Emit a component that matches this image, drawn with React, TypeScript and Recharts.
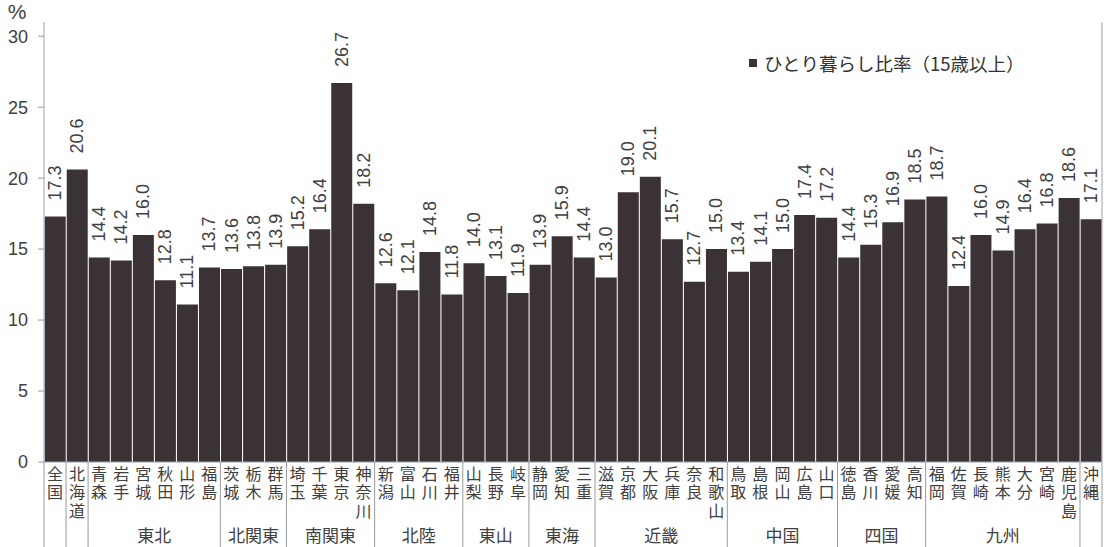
import React from 'react';
import {
  BarChart, Bar, XAxis, YAxis, Legend, LabelList, Label
} from 'recharts';

const categories = [
  '全国', '北海道',
  '青森', '岩手', '宮城', '秋田', '山形', '福島',
  '茨城', '栃木', '群馬',
  '埼玉', '千葉', '東京', '神奈川',
  '新潟', '富山', '石川', '福井',
  '山梨', '長野', '岐阜',
  '静岡', '愛知', '三重',
  '滋賀', '京都', '大阪', '兵庫', '奈良', '和歌山',
  '鳥取', '島根', '岡山', '広島', '山口',
  '徳島', '香川', '愛媛', '高知',
  '福岡', '佐賀', '長崎', '熊本', '大分', '宮崎', '鹿児島',
  '沖縄',
];

// ひとり暮らし比率（15歳以上）, %
const singleRates = [
  17.3, 20.6,
  14.4, 14.2, 16.0, 12.8, 11.1, 13.7,
  13.6, 13.8, 13.9,
  15.2, 16.4, 26.7, 18.2,
  12.6, 12.1, 14.8, 11.8,
  14.0, 13.1, 11.9,
  13.9, 15.9, 14.4,
  13.0, 19.0, 20.1, 15.7, 12.7, 15.0,
  13.4, 14.1, 15.0, 17.4, 17.2,
  14.4, 15.3, 16.9, 18.5,
  18.7, 12.4, 16.0, 14.9, 16.4, 16.8, 18.6,
  17.1,
];

const regionNames = ['', '', '東北', '北関東', '南関東', '北陸', '東山', '東海', '近畿', '中国', '四国', '九州', ''];
const regionSizes = [1, 1, 6, 3, 4, 4, 3, 3, 6, 5, 4, 7, 1];

const yTicks = [0, 5, 10, 15, 20, 25, 30];

const data = categories.map((name, i) => ({ name, rate: singleRates[i] }));

// index of the first prefecture in each region -> region info
const regionStarts: Record<number, { label: string; size: number }> = {};
let cursor = 0;
regionNames.forEach((label, r) => {
  regionStarts[cursor] = { label, size: regionSizes[r] };
  cursor += regionSizes[r];
});

const WIDTH = 1104;
const HEIGHT = 547;
const BAR_COLOR = '#3b3236';
const TEXT_COLOR = '#404040';
const FRAME_COLOR = '#9ba1b8';
const NUM_FONT = "'Liberation Sans', Arial, sans-serif";
const JP_FONT = "'Noto Sans CJK JP', 'Noto Sans', sans-serif";

// prefecture names set vertically, plus region separators and region names
const CategoryTick = (props: any) => {
  const { x, y, payload } = props;
  const i: number = payload.index ?? props.index;
  const half: number = payload.offset || (WIDTH - 46) / categories.length / 2;
  const start = regionStarts[i];
  const isLast = i === categories.length - 1;
  return (
    <g>
      <text x={x} y={y + 3.5} writingMode="vertical-rl" letterSpacing={2.5}
        fontSize={16} fontFamily={JP_FONT} fill={TEXT_COLOR}>{categories[i]}</text>
      {start && <line x1={x - half} x2={x - half} y1={y} y2={y + 90} stroke="#9a9a9a" strokeWidth={1} />}
      {isLast && <line x1={x + half} x2={x + half} y1={y} y2={y + 90} stroke="#9a9a9a" strokeWidth={1} />}
      {start && start.label && (
        <text x={x - half + start.size * half} y={y + 80} textAnchor="middle"
          fontSize={17} fontFamily={JP_FONT} fill={TEXT_COLOR}>{start.label}</text>
      )}
    </g>
  );
};

const RateLabel = (props: any) => {
  const { x, y, width, value } = props;
  const cx = x + width / 2;
  const ty = y - 16;
  return (
    <text x={cx} y={ty} transform={`rotate(-90 ${cx} ${ty})`} textAnchor="start"
      dominantBaseline="central" fontSize={18} fontFamily={NUM_FONT} fill={TEXT_COLOR}>
      {Number(value).toFixed(1)}
    </text>
  );
};

const PercentLabel = (props: any) => {
  const { viewBox } = props;
  return (
    <text x={viewBox.x + 17} y={viewBox.y - 3} textAnchor="middle" fontSize={21}
      fontFamily={NUM_FONT} fill={TEXT_COLOR}>%</text>
  );
};

const LegendContent = () => (
  <div style={{ display: 'flex', alignItems: 'center', fontFamily: JP_FONT, fontSize: 18.5, color: '#333', whiteSpace: 'nowrap' }}>
    <span style={{ display: 'inline-block', width: 8, height: 8, background: BAR_COLOR, marginRight: 7 }} />
    ひとり暮らし比率（15歳以上）
  </div>
);

export default function App() {
  return (
    <div style={{ position: 'absolute', left: 0, top: 0, background: '#fff' }}>
      <BarChart
        width={WIDTH}
        height={HEIGHT}
        data={data}
        margin={{ top: 22, right: 1, left: 0, bottom: 0 }}
        barCategoryGap={0.7}
      >
        <XAxis
          dataKey="name"
          interval={0}
          height={85}
          tickSize={0}
          tickMargin={0}
          tickLine={false}
          axisLine={{ stroke: FRAME_COLOR }}
          tick={<CategoryTick />}
        />
        <XAxis xAxisId="top" dataKey="name" orientation="top" height={0} tick={false} tickLine={false} axisLine={{ stroke: FRAME_COLOR }} />
        <YAxis
          domain={[0, 31]}
          ticks={yTicks}
          width={44}
          tickSize={6}
          tickMargin={10}
          axisLine={{ stroke: FRAME_COLOR }}
          tickLine={{ stroke: '#8a9ab0' }}
          tick={{ fontSize: 18, fontFamily: NUM_FONT, fill: TEXT_COLOR }}
        >
          <Label content={<PercentLabel />} />
        </YAxis>
        <YAxis yAxisId="frame" orientation="right" width={1} domain={[0, 31]} tick={false} tickLine={false} axisLine={{ stroke: FRAME_COLOR }} />
        <Legend
          layout="horizontal"
          align="center"
          verticalAlign="middle"
          content={<LegendContent />}
          wrapperStyle={{ left: 749, top: 50, width: 320 }}
        />
        <Bar dataKey="rate" name="ひとり暮らし比率（15歳以上）" fill={BAR_COLOR} isAnimationActive={false}>
          <LabelList dataKey="rate" content={<RateLabel />} />
        </Bar>
      </BarChart>
    </div>
  );
}
